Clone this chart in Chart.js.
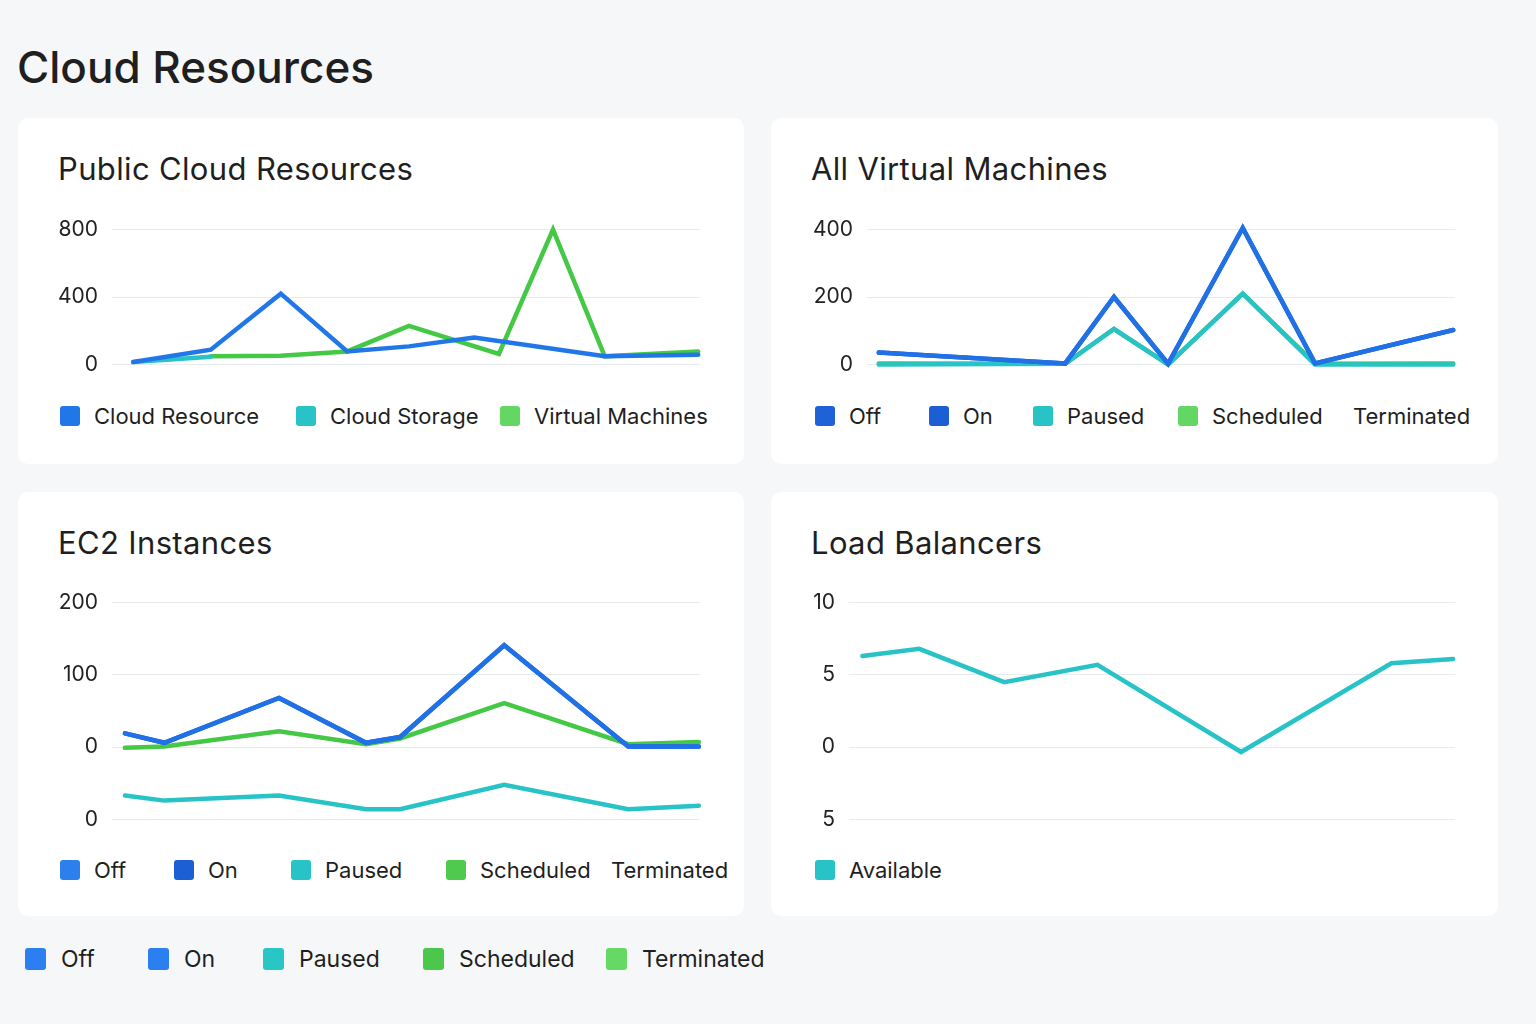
<!DOCTYPE html>
<html><head><meta charset="utf-8">
<script src="https://cdn.jsdelivr.net/npm/chart.js@4.4.0/dist/chart.umd.min.js"></script>
<style>
html,body{margin:0;padding:0;}
body{width:1536px;height:1024px;background:#f6f7f9;font-family:Inter,"Noto Sans",sans-serif;color:#1f1f1f;position:relative;overflow:hidden;}
h1{position:absolute;left:17px;top:45px;margin:0;font-size:44px;font-weight:500;line-height:1;}
.card{position:absolute;background:#fff;border-radius:10px;}
.card h2{position:absolute;left:40px;top:35px;margin:0;font-size:31px;font-weight:400;line-height:1;white-space:nowrap;letter-spacing:0.35px;}
.cw{position:absolute;}
.legend{position:absolute;display:flex;align-items:center;font-size:22px;height:26px;white-space:nowrap;}
.li{display:flex;align-items:center;flex:none;}
.box{width:20px;height:20px;border-radius:3px;margin-right:14px;}
#bottomLegend{font-size:23px;}
#bottomLegend .box{width:21px;height:22px;margin-right:15px;}
</style>
</head>
<body>
<h1>Cloud Resources</h1>

<div class="card" style="left:18px;top:118px;width:726px;height:346px;">
  <h2>Public Cloud Resources</h2>
  <div class="cw" style="left:32px;top:85px;width:656px;height:188px;"><canvas id="c1"></canvas></div>
  <div class="legend" id="lg1" style="left:42px;top:285px;"></div>
</div>
<div class="card" style="left:771px;top:118px;width:727px;height:346px;">
  <h2>All Virtual Machines</h2>
  <div class="cw" style="left:34px;top:85px;width:656px;height:188px;"><canvas id="c2"></canvas></div>
  <div class="legend" id="lg2" style="left:44px;top:285px;"></div>
</div>
<div class="card" style="left:18px;top:492px;width:726px;height:424px;">
  <h2>EC2 Instances</h2>
  <div class="cw" style="left:32px;top:84px;width:656px;height:270px;"><canvas id="c3"></canvas></div>
  <div class="legend" id="lg3" style="left:42px;top:365px;"></div>
</div>
<div class="card" style="left:771px;top:492px;width:727px;height:424px;">
  <h2>Load Balancers</h2>
  <div class="cw" style="left:34px;top:84px;width:656px;height:270px;"><canvas id="c4"></canvas></div>
  <div class="legend" id="lg4" style="left:44px;top:365px;"></div>
</div>
<div class="legend" id="bottomLegend" style="left:25px;top:946px;"></div>

<script>
// ---------- DATA ----------
// Public Cloud Resources
const pubX = [3.6, 16.8, 28.7, 40, 50.5, 61.6, 65.8, 75, 83.8, 99.7];
const pubCloudResource = [14, 87, 420, 77, 107, 159, null, null, 48, 58];
const pubCloudStorage = [14, 46, null, null, null, null, null, null, null, null];
const pubVirtualMachines = [null, 48, 52, 77, 229, null, 62, 800, 48, 77];
const pubNames = ["Cloud Resource", "Cloud Storage", "Virtual Machines"];
const pubYTickValues = [0, 400, 800];
const pubYTickLabels = ["0", "400", "800"];

// All Virtual Machines
const vmX = [2.0, 33.7, 42, 51.2, 63.9, 76.2, 99.7];
const vmOff = [35, 3, 200, 2, 405, 3, 102];
const vmOn = [35, 3, 200, 2, 405, 3, 102];
const vmPaused = [0, 2, 105, 0, 210, 0, 0];
const vmScheduled = [3, 2, 105, 0, 210, 2, 3];
const vmTerminated = [];
const stateNames = ["Off", "On", "Paused", "Scheduled", "Terminated"];
const vmYTickValues = [0, 200, 400];
const vmYTickLabels = ["0", "200", "400"];

// EC2 Instances
const ec2X = [2.2, 8.9, 28.4, 43.2, 49, 66.7, 87.8, 99.8];
const ec2Off = [19, 6, 68, 6, 14, 141, 1, 1];
const ec2On = [19, 6, 68, 6, 14, 141, 1, 1];
const ec2Paused = [-67, -74, -67, -86, -86, -52, -86, -81];
const ec2Scheduled = [-1, 1, 22, 4, 12, 61, 4, 7];
const ec2Terminated = [];
const ec2YTickValues = [-100, 0, 100, 200];
const ec2YTickLabels = ["0", "0", "100", "200"];

// Load Balancers
const lbX = [2.2, 11.6, 25.6, 41, 64.7, 89.5, 99.7];
const lbAvailable = [6.3, 6.8, 4.5, 5.7, -0.34, 5.8, 6.1];
const lbNames = ["Available"];
const lbYTickValues = [-5, 0, 5, 10];
const lbYTickLabels = ["5", "0", "5", "10"];

// Page legend
const pageLegendNames = ["Off", "On", "Paused", "Scheduled", "Terminated"];

// ---------- STYLES / LAYOUT ----------
const C = {
  blue: "#2277e8", blueDark: "#1c5fd4", blueLine: "#2070e6",
  teal: "#27c3c7", green: "#45c845", greenLight: "#63d663"
};
const pubColors = [C.blue, C.teal, C.greenLight];
const pubLineColors = [C.blue, C.teal, C.green];
const vmColors = ["#1f62d8", C.blueDark, C.teal, C.greenLight, null];
const vmLineColors = [C.blueLine, C.blueDark, C.teal, C.green, null];
const ec2Colors = ["#2b80ee", C.blueDark, C.teal, "#4fca4f", null];
const ec2LineColors = [C.blueLine, C.blueDark, C.teal, C.green, null];
const lbColors = [C.teal];
const pageLegendColors = ["#2b7ff0", "#2b7ff0", "#28c6c6", "#4bc74b", "#66d866"];
const lg1Widths = [236, 204, null];
const lg2Widths = [114, 104, 145, 175, null];
const lg3Widths = [114, 117, 155, 165, null];
const lg4Widths = [null];
const bottomWidths = [123, 115, 160, 183, null];

function pts(xs, ys) { return ys.map((v, i) => ({x: xs[i], y: v})); }

function buildLegend(id, names, colors, widths) {
  const el = document.getElementById(id);
  names.forEach((n, i) => {
    const it = document.createElement("div"); it.className = "li";
    if (widths[i]) it.style.width = widths[i] + "px";
    if (colors[i]) { const b = document.createElement("div"); b.className = "box"; b.style.background = colors[i]; it.appendChild(b); }
    const t = document.createElement("span"); t.textContent = n; it.appendChild(t);
    el.appendChild(it);
  });
}

function makeChart(id, xs, series, names, lineColors, tickVals, tickLabels, axisWidth) {
  const datasets = series.map((s, i) => ({
    label: names[i],
    data: pts(xs, s),
    borderColor: lineColors[i] || "rgba(0,0,0,0)",
    backgroundColor: lineColors[i] || "rgba(0,0,0,0)",
    borderWidth: 4.5,
    pointRadius: 0,
    tension: 0,
    spanGaps: true,
    clip: false,
    borderCapStyle: "round"
  }));
  new Chart(document.getElementById(id), {
    type: "line",
    data: { datasets },
    options: {
      responsive: true, maintainAspectRatio: false, animation: false,
      layout: { padding: { top: 10, bottom: 10, left: 0, right: 6 } },
      plugins: { legend: { display: false }, tooltip: { enabled: false } },
      scales: {
        x: { type: "linear", min: 0, max: 100, display: false },
        y: {
          min: tickVals[0], max: tickVals[tickVals.length - 1],
          afterBuildTicks: (sc) => { sc.ticks = tickVals.map(v => ({value: v})); },
          afterFit: (sc) => { sc.width = axisWidth; },
          border: { display: false },
          grid: { color: "#e7eaef", lineWidth: 1, drawTicks: false },
          ticks: {
            padding: 14, color: "#222",
            font: { family: "Inter", size: 21 },
            callback: (v) => { const k = tickVals.indexOf(v); return k >= 0 ? tickLabels[k] : ""; }
          }
        }
      }
    }
  });
}

makeChart("c1", pubX, [pubCloudResource, pubCloudStorage, pubVirtualMachines], pubNames, pubLineColors, pubYTickValues, pubYTickLabels, 62);
makeChart("c2", vmX, [vmOff, vmOn, vmPaused, vmScheduled, vmTerminated], stateNames, vmLineColors, vmYTickValues, vmYTickLabels, 62);
makeChart("c3", ec2X, [ec2Off, ec2On, ec2Paused, ec2Scheduled, ec2Terminated], stateNames, ec2LineColors, ec2YTickValues, ec2YTickLabels, 62);
makeChart("c4", lbX, [lbAvailable], lbNames, lbColors, lbYTickValues, lbYTickLabels, 44);

buildLegend("lg1", pubNames, pubColors, lg1Widths);
buildLegend("lg2", stateNames, vmColors, lg2Widths);
buildLegend("lg3", stateNames, ec2Colors, lg3Widths);
buildLegend("lg4", lbNames, lbColors, lg4Widths);
buildLegend("bottomLegend", pageLegendNames, pageLegendColors, bottomWidths);
</script>
</body></html>
